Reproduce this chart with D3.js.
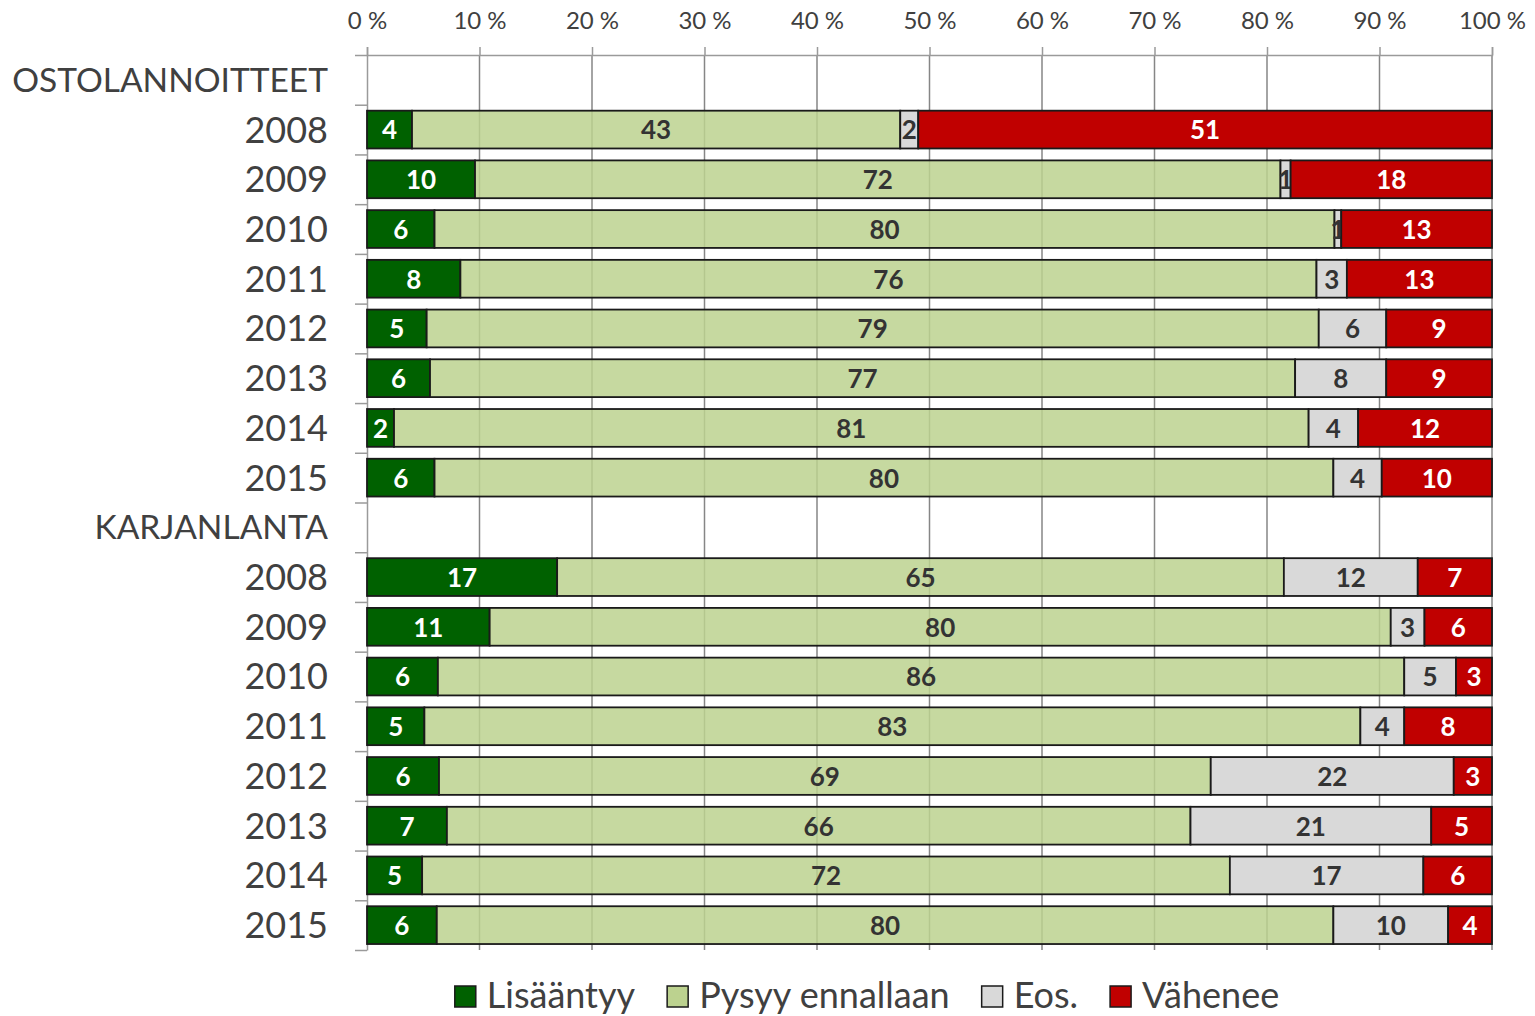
<!DOCTYPE html>
<html>
<head>
<meta charset="utf-8">
<script src="https://cdn.jsdelivr.net/npm/d3@7"></script>
<style>
  body { margin: 0; background: #fff; }
  svg { display: block; font-family: Lato, 'Open Sans', sans-serif; }
</style>
</head>
<body>
<div id="chart"></div>
<script>

// row labels, top to bottom (header rows have no bars)
var rowLabels = ['OSTOLANNOITTEET', '2008', '2009', '2010', '2011', '2012', '2013', '2014', '2015',
                 'KARJANLANTA', '2008', '2009', '2010', '2011', '2012', '2013', '2014', '2015']
var headerRows = [0, 9]

var seriesNames = ['Lisääntyy', 'Pysyy ennallaan', 'Eos.', 'Vähenee']

// percentages
var lisaantyy = [null, 4.0, 9.6, 6.0, 8.3, 5.3, 5.6, 2.4, 6.0,
                 null, 16.9, 10.9, 6.3, 5.1, 6.4, 7.1, 4.9, 6.2]
var pysyy     = [null, 43.4, 71.6, 80.0, 76.1, 79.3, 76.9, 81.3, 79.9,
                 null, 64.6, 80.1, 85.9, 83.2, 68.6, 66.1, 71.8, 79.7]
var eos       = [null, 1.6, 0.9, 0.6, 2.7, 6.0, 8.1, 4.4, 4.3,
                 null, 11.9, 3.0, 4.6, 3.9, 21.6, 21.4, 17.2, 10.2]
var vahenee   = [null, 51.0, 17.9, 13.4, 12.9, 9.4, 9.4, 11.9, 9.8,
                 null, 6.6, 6.0, 3.2, 7.8, 3.4, 5.4, 6.1, 3.9]

var tickValues = [0, 10, 20, 30, 40, 50, 60, 70, 80, 90, 100]

var colors = ['#006100', '#bcd28f', '#d9d9d9', '#c00000']
var labelColors = ['#ffffff', '#333333', '#333333', '#ffffff']

var W = 1535, H = 1016
var plot = { left: 367, right: 1492, top: 55, bottom: 950 }

var svg = d3.select('#chart').append('svg')
	.attr('width', W)
	.attr('height', H)

var xScale = d3.scaleLinear()
	.domain([0, 100])
	.range([plot.left, plot.right])

var yScale = d3.scaleBand()
	.domain(d3.range(rowLabels.length))
	.range([plot.top, plot.bottom])
	.paddingInner(0.24)
	.paddingOuter(0.12)

var yEdges = d3.scaleLinear()
	.domain([0, rowLabels.length])
	.range([plot.top, plot.bottom])

// gridlines
svg.append('g')
	.selectAll('line').data(tickValues.slice(1))
	.enter().append('line')
		.attr('x1', function(d) { return xScale(d) })
		.attr('x2', function(d) { return xScale(d) })
		.attr('y1', plot.top)
		.attr('y2', plot.bottom)
		.attr('stroke', '#868686')
		.attr('stroke-width', 1.5)

// top axis
var xAxis = d3.axisTop(xScale)
	.tickValues(tickValues)
	.tickFormat(function(d) { return d + ' %' })
	.tickSize(8)
	.tickPadding(18)
var gx = svg.append('g')
	.attr('transform', 'translate(0,' + plot.top + ')')
	.call(xAxis)
gx.selectAll('line, path').attr('stroke', '#9a9a9a').attr('stroke-width', 1.5)
gx.selectAll('text')
	.attr('fill', '#404040')
	.style('font-size', '24px')
	.style('font-family', 'Lato, sans-serif')

// left axis, ticks between rows
var yAxis = d3.axisLeft(yEdges)
	.tickValues(d3.range(rowLabels.length + 1))
	.tickFormat('')
	.tickSize(12)
	.tickSizeOuter(0)
var gy = svg.append('g')
	.attr('transform', 'translate(' + plot.left + ',0)')
	.call(yAxis)
gy.selectAll('line, path').attr('stroke', '#9a9a9a').attr('stroke-width', 1.5)

// row labels
svg.append('g')
	.selectAll('text').data(rowLabels)
	.enter().append('text')
		.attr('x', 328)
		.attr('y', function(d, i) { return yScale(i) + yScale.bandwidth() / 2 })
		.attr('dy', '0.36em')
		.attr('text-anchor', 'end')
		.attr('fill', '#404040')
		.style('font-size', function(d, i) { return headerRows.indexOf(i) >= 0 ? '33.5px' : '36px' })
		.text(function(d) { return d })

// stacked bars
var table = rowLabels.map(function(label, i) {
	return { row: i, s0: lisaantyy[i], s1: pysyy[i], s2: eos[i], s3: vahenee[i] }
}).filter(function(d) { return d.s0 !== null })

var stack = d3.stack().keys(['s0', 's1', 's2', 's3'])
var layers = stack(table)

var chart = svg.append('g')
var layerG = chart.selectAll('g.layer').data(layers)
	.enter().append('g')
		.attr('class', 'layer')

layerG.selectAll('rect')
	.data(function(d) { return d })
	.enter().append('rect')
		.attr('x', function(d) { return xScale(d[0]) })
		.attr('y', function(d) { return yScale(d.data.row) })
		.attr('width', function(d) { return xScale(d[1]) - xScale(d[0]) })
		.attr('height', yScale.bandwidth())
		.attr('fill', function(d) { return colors[d3.select(this.parentNode).datum().index] })
		.attr('fill-opacity', function(d) { return d3.select(this.parentNode).datum().index === 1 ? 0.85 : 1 })
		.attr('stroke', '#1a1a1a')
		.attr('stroke-width', 1.8)

// data labels
layerG.selectAll('text')
	.data(function(d) { return d })
	.enter().append('text')
		.attr('x', function(d) { return (xScale(d[0]) + xScale(d[1])) / 2 })
		.attr('y', function(d) { return yScale(d.data.row) + yScale.bandwidth() / 2 })
		.attr('dy', '0.38em')
		.attr('text-anchor', 'middle')
		.attr('fill', function(d) { return labelColors[d3.select(this.parentNode).datum().index] })
		.style('font-size', '26px')
		.style('font-weight', 'bold')
		.text(function(d) { return Math.round(d[1] - d[0]) })

// legend
var legend = svg.append('g')
var items = legend.selectAll('g').data(seriesNames)
	.enter().append('g')
items.append('rect')
	.attr('width', 21)
	.attr('height', 21)
	.attr('y', -22)
	.attr('fill', function(d, i) { return colors[i] })
	.attr('stroke', '#1a1a1a')
	.attr('stroke-width', 1.5)
items.append('text')
	.attr('x', 32)
	.attr('y', 0)
	.attr('fill', '#404040')
	.style('font-size', '36px')
	.text(function(d) { return d })

var xPos = 0
var positions = []
items.each(function() {
	positions.push(xPos)
	var tw = d3.select(this).select('text').node().getComputedTextLength()
	xPos += 32 + tw + 32
})
var total = xPos - 32
var startX = 867 - total / 2
items.attr('transform', function(d, i) { return 'translate(' + (startX + positions[i]) + ',1008)' })

</script>
</body>
</html>
